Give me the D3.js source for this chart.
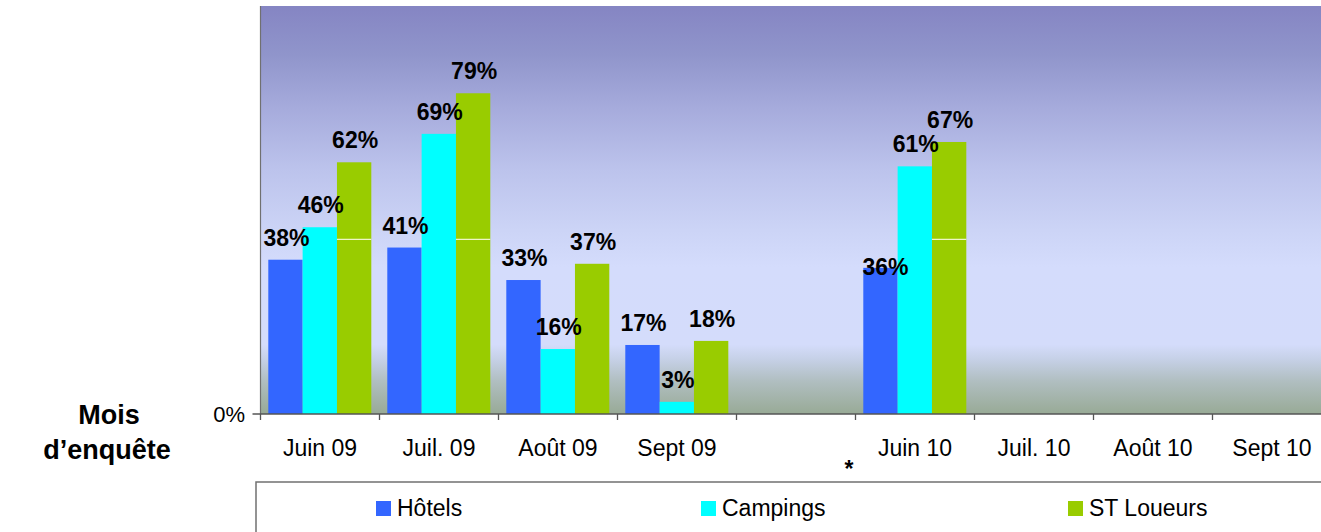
<!DOCTYPE html>
<html>
<head>
<meta charset="utf-8">
<script src="https://cdn.jsdelivr.net/npm/d3@7"></script>
<style>
  html, body { margin: 0; padding: 0; background: #ffffff; }
  svg { display: block; font-family: "Liberation Sans", Arial, sans-serif; }
</style>
</head>
<body>
<svg id="chart" width="1321" height="532"></svg>
<script>
// ---- data ----
const categories = ["Juin 09", "Juil. 09", "Août 09", "Sept 09", "", "Juin 10", "Juil. 10", "Août 10", "Sept 10"];
const seriesNames = ["Hôtels", "Campings", "ST Loueurs"];
const hotels   = [38, 41, 33, 17, null, 36, null, null, null];
const campings = [46, 69, 16, 3, null, 61, null, null, null];
const loueurs  = [62, 79, 37, 18, null, 67, null, null, null];
const seriesColors = ["#3366ff", "#00ffff", "#99cc00"];
const yTickValues = [0];
const yTickLabels = ["0%"];
const bandLineValue = 43;   // light line visible across the green bars

const seriesValues = [hotels, campings, loueurs];

// ---- layout ----
const svg = d3.select("#chart");
const plotLeft = 260.5, plotTop = 6, plotBottom = 414;
const catWidth = 119;
// label of Juin 10 / Hôtels sits lower, overlapping its bar (as in the original)
const labelShift = { "5|0": { dx: 4, dy: 21 } };

const x = d3.scaleBand()
  .domain(categories.map((c, i) => i))
  .range([plotLeft, plotLeft + catWidth * categories.length])
  .paddingInner(0).paddingOuter(0);

const xs = d3.scaleBand()
  .domain(seriesNames)
  .range([7.8, 7.8 + 103])
  .padding(0);

const y = d3.scaleLinear().domain([0, 100]).range([plotBottom, 8]);

// ---- background gradient ----
const defs = svg.append("defs");
const grad = defs.append("linearGradient")
  .attr("id", "bg").attr("x1", 0).attr("y1", 0).attr("x2", 0).attr("y2", 1);
[
  [0, "#8585c3"], [0.12, "#9095cb"], [0.25, "#a6abdc"], [0.4, "#bcc3ec"],
  [0.55, "#ccd4f6"], [0.64, "#d4dcfc"], [0.83, "#d4dcfb"], [0.87, "#c4cfe4"],
  [0.92, "#b0bec0"], [1, "#98aa96"]
].forEach(([o, c]) => grad.append("stop").attr("offset", o).attr("stop-color", c));

svg.append("rect")
  .attr("x", plotLeft).attr("y", plotTop)
  .attr("width", 1321 - plotLeft).attr("height", plotBottom - plotTop)
  .attr("fill", "url(#bg)");

// ---- bars ----
const barData = [];
categories.forEach((c, i) => {
  seriesNames.forEach((s, j) => {
    const v = seriesValues[j][i];
    if (v !== null) barData.push({ i, s, j, v });
  });
});

svg.append("g").selectAll("rect")
  .data(barData).enter().append("rect")
  .attr("x", d => x(d.i) + xs(d.s))
  .attr("y", d => y(d.v))
  .attr("width", xs.bandwidth())
  .attr("height", d => y(0) - y(d.v))
  .attr("fill", d => seriesColors[d.j]);

// light line across the green bars
svg.append("g").selectAll("line")
  .data(barData.filter(d => d.j === 2 && d.v > bandLineValue)).enter().append("line")
  .attr("x1", d => x(d.i) + xs(d.s))
  .attr("x2", d => x(d.i) + xs(d.s) + xs.bandwidth())
  .attr("y1", y(bandLineValue)).attr("y2", y(bandLineValue))
  .attr("stroke", "#eef5c8").attr("stroke-width", 1.2);

// ---- axes ----
const axisColor = "#555555";
svg.append("line")
  .attr("x1", plotLeft).attr("x2", plotLeft)
  .attr("y1", plotTop).attr("y2", plotBottom)
  .attr("stroke", "#707070").attr("stroke-width", 1.2);

const xAxis = d3.axisBottom(x).tickSize(0).tickFormat(i => categories[i]);
const gx = svg.append("g").attr("transform", `translate(0,${plotBottom})`).call(xAxis);
gx.select(".domain").remove();
gx.selectAll("text")
  .attr("dy", null).attr("y", 42)
  .attr("font-size", 23).attr("fill", "#000")
  .attr("font-family", "'Liberation Sans', Arial, sans-serif");

// category boundary ticks
svg.append("g").selectAll("line")
  .data(d3.range(categories.length + 1)).enter().append("line")
  .attr("x1", i => plotLeft + i * x.step())
  .attr("x2", i => plotLeft + i * x.step())
  .attr("y1", plotBottom).attr("y2", plotBottom + 6)
  .attr("stroke", axisColor).attr("stroke-width", 1.3);

svg.append("line")
  .attr("x1", plotLeft - 8).attr("x2", 1321)
  .attr("y1", plotBottom).attr("y2", plotBottom)
  .attr("stroke", axisColor).attr("stroke-width", 1.5);

// y tick label
svg.append("g").selectAll("text")
  .data(yTickValues).enter().append("text")
  .attr("x", 245).attr("y", d => y(d) + 8)
  .attr("text-anchor", "end")
  .attr("font-size", 22).attr("fill", "#000")
  .text((d, k) => yTickLabels[k]);

// ---- value labels ----
const shiftOf = d => labelShift[d.i + "|" + d.j] || { dx: 0, dy: 0 };
svg.append("g").selectAll("text")
  .data(barData).enter().append("text")
  .attr("x", d => x(d.i) + xs(d.s) + xs.bandwidth() / 2 + 1 + shiftOf(d).dx)
  .attr("y", d => y(d.v) - 14 + shiftOf(d).dy)
  .attr("text-anchor", "middle")
  .attr("font-size", 23).attr("font-weight", "bold").attr("fill", "#000")
  .text(d => d.v + "%");

// ---- axis title ----
const title = svg.append("text")
  .attr("text-anchor", "middle")
  .attr("font-size", 27).attr("font-weight", "bold").attr("fill", "#000");
title.append("tspan").attr("x", 109).attr("y", 424).text("Mois");
title.append("tspan").attr("x", 107).attr("y", 459).text("d’enquête");

// asterisk
svg.append("text")
  .attr("x", 849).attr("y", 477)
  .attr("text-anchor", "middle")
  .attr("font-size", 23).attr("font-weight", "bold").attr("fill", "#000")
  .text("*");

// ---- legend ----
svg.append("rect")
  .attr("x", 256).attr("y", 482)
  .attr("width", 1200).attr("height", 100)
  .attr("fill", "#ffffff").attr("stroke", "#707070").attr("stroke-width", 1.5);

const legendX = [376, 701, 1068];
const lg = svg.append("g").selectAll("g")
  .data(seriesNames).enter().append("g")
  .attr("transform", (d, k) => `translate(${legendX[k]},501)`);
lg.append("rect")
  .attr("width", 15).attr("height", 15)
  .attr("fill", (d, k) => seriesColors[k]);
lg.append("text")
  .attr("x", 21).attr("y", 15)
  .attr("font-size", 23).attr("fill", "#000")
  .text(d => d);
</script>
</body>
</html>
